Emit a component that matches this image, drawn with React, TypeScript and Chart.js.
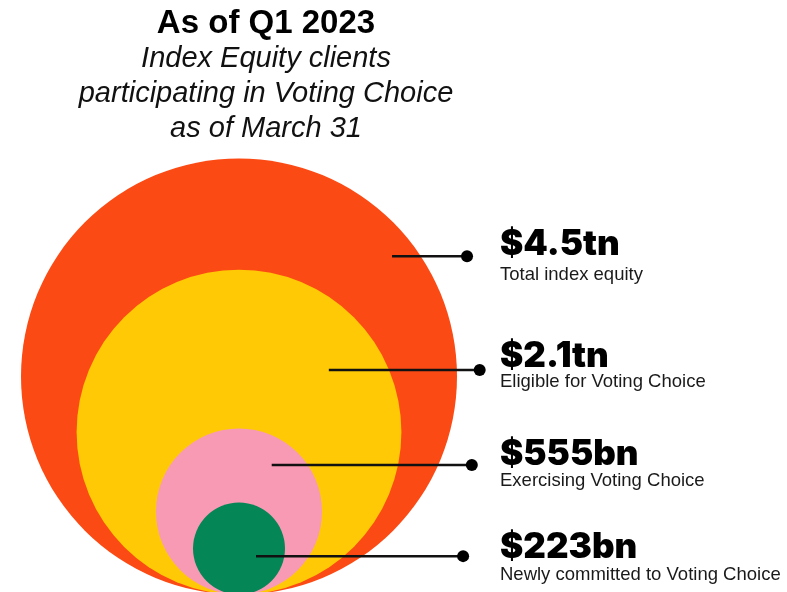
import React, { useEffect, useRef } from "react";
import { Chart, registerables } from "chart.js";

Chart.register(...registerables);

// ---------------- data ----------------
const categories = [
  "Total index equity",
  "Eligible for Voting Choice",
  "Exercising Voting Choice",
  "Newly committed to Voting Choice",
];
const amountLabels = ["$4.5tn", "$2.1tn", "$555bn", "$223bn"];
const amountsBn = [4500, 2100, 555, 223];
// circle diameters as drawn, relative to the outer circle (= 100)
const circleDiameters = [100, 74.5, 38.1, 21.1];
const titleText = "As of Q1 2023";
const subtitleLines = [
  "Index Equity clients",
  "participating in Voting Choice",
  "as of March 31",
];

// ---------------- styles / layout ----------------
const circleColors = ["#FC4A14", "#FFCA05", "#F99AB4", "#048657"];
const W = 787;
const H = 592;
const PAD_RIGHT = 255;
const AREA_TOP = 158;
const PX_PER_UNIT = 4.36;
const CENTER_PX = 239;
const BASE_PX = 594.5;
// leader lines in chart units
const leaderStartX = [35.1, 20.6, 7.5, 3.9];
const leaderEndX = [52.3, 55.2, 53.4, 51.4];
const leaderY = [77.6, 51.5, 29.7, 8.8];
// side label layout (px)
const LABEL_X = 500;
const amountBaselines = [254.5, 366.5, 465, 558];
const descBaselines = [280, 386.5, 486, 579.5];

const SANS = "'Liberation Sans', Arial, Helvetica, sans-serif";

const sideLabels = {
  id: "sideLabels",
  afterDatasetsDraw(chart: any) {
    const ctx = chart.ctx;
    ctx.save();
    ctx.textAlign = "left";
    ctx.textBaseline = "alphabetic";
    amountLabels.forEach((t, i) => {
      ctx.fillStyle = "#000";
      ctx.font = "900 35px Inter, 'DejaVu Sans', sans-serif";
      ctx.fillText(t, LABEL_X, amountBaselines[i]);
      ctx.fillStyle = "#1a1a1a";
      ctx.font = `18.5px ${SANS}`;
      ctx.fillText(categories[i], LABEL_X, descBaselines[i]);
    });
    ctx.restore();
  },
};

export default function App() {
  const ref = useRef<HTMLCanvasElement>(null);

  useEffect(() => {
    if (!ref.current) return;
    const radiusPx = (c: any) => {
      const s = c.chart.scales.x;
      const d = circleDiameters[c.dataIndex] ?? 0;
      return Math.abs(s.getPixelForValue(d / 2) - s.getPixelForValue(0));
    };

    const leaders = amountsBn.map((v, i) => ({
      type: "line" as const,
      label: categories[i],
      data: [
        { x: leaderStartX[i], y: leaderY[i] },
        { x: leaderEndX[i], y: leaderY[i] },
      ],
      borderColor: "#111",
      borderWidth: 2.5,
      pointRadius: [0, 6],
      pointHoverRadius: [0, 6],
      pointBackgroundColor: "#000",
      pointBorderWidth: 0,
      clip: false as any,
      order: 0,
    }));

    const chart = new Chart(ref.current, {
      type: "scatter",
      data: {
        datasets: [
          {
            type: "scatter",
            label: "circles",
            data: circleDiameters.map((d) => ({ x: 0, y: d / 2 })),
            pointRadius: radiusPx as any,
            pointHoverRadius: radiusPx as any,
            pointBackgroundColor: circleColors,
            pointBorderWidth: 0,
            pointBorderColor: "rgba(0,0,0,0)",
            clip: false as any,
            order: 10,
          },
          ...leaders,
        ] as any,
      },
      options: {
        responsive: false,
        maintainAspectRatio: false,
        animation: false,
        events: [],
        layout: { autoPadding: false, padding: { left: 0, right: PAD_RIGHT, top: 0, bottom: 0 } },
        scales: {
          x: {
            type: "linear",
            display: false,
            min: (0 - CENTER_PX) / PX_PER_UNIT,
            max: (W - PAD_RIGHT - CENTER_PX) / PX_PER_UNIT,
          },
          y: {
            type: "linear",
            display: false,
            min: (BASE_PX - H) / PX_PER_UNIT,
            max: (BASE_PX - AREA_TOP) / PX_PER_UNIT,
          },
        },
        plugins: {
          legend: { display: false },
          tooltip: { enabled: false },
          title: {
            display: true,
            text: titleText,
            align: "center",
            color: "#000",
            font: { family: SANS, size: 33, weight: "bold", lineHeight: 1.1 },
            padding: { top: 6, bottom: -1.3 },
          },
          subtitle: {
            display: true,
            text: subtitleLines,
            align: "center",
            color: "#111",
            font: { family: SANS, size: 29, style: "italic", weight: "normal", lineHeight: 35 / 29 },
            padding: { top: 0, bottom: 12.0 },
          },
        },
      },
      plugins: [sideLabels],
    });
    return () => chart.destroy();
  }, []);

  return (
    <div style={{ position: "fixed", left: 0, top: 0, width: W, height: H, background: "#fff" }}>
      <canvas ref={ref} width={W} height={H} style={{ display: "block" }} />
    </div>
  );
}
